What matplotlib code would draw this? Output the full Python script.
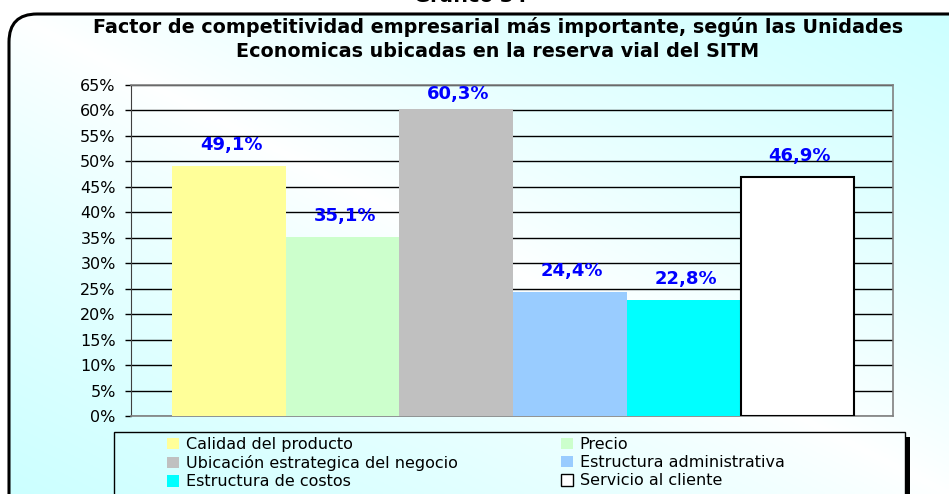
import numpy as np
import matplotlib
matplotlib.use("Agg")
import matplotlib.pyplot as plt
from matplotlib.patches import FancyBboxPatch, Rectangle, Patch

categories = ["Calidad del producto", "Precio", "Ubicación estrategica del negocio",
              "Estructura administrativa", "Estructura de costos", "Servicio al cliente"]
values = [49.1, 35.1, 60.3, 24.4, 22.8, 46.9]
labels = ["49,1%", "35,1%", "60,3%", "24,4%", "22,8%", "46,9%"]
colors = ["#ffff99", "#ccffcc", "#c0c0c0", "#99ccff", "#00ffff", "#ffffff"]
edges = ["none", "none", "none", "none", "none", "black"]
yticks = list(range(0, 70, 5))
title = "Factor de competitividad empresarial más importante, según las Unidades\nEconomicas ubicadas en la reserva vial del SITM"
top_title = "Gráfico 34"

plt.rcParams['font.family'] = ['DejaVu Sans']

W, H = 949, 494
fig = plt.figure(figsize=(W / 100, H / 100), dpi=100)

# background with gradient clipped to rounded frame
bg = fig.add_axes([0, 0, 1, 1], zorder=-10)
bg.set_xlim(0, W)
bg.set_ylim(0, H)
bg.axis('off')
u = np.linspace(0, 1, 300)
v = np.linspace(0, 1, 200)
U, V = np.meshgrid(u, v)
t = np.abs(U + V - 1.0)
t = np.clip(t, 0, 1) ** 0.8
c0 = np.array([1.0, 1.0, 1.0])
c1 = np.array([0.80, 1.0, 1.0])
img = c0[None, None, :] + t[:, :, None] * (c1 - c0)[None, None, :]
frame = FancyBboxPatch((9, -40), W + 40, H - 13 + 40 - 1,
                       boxstyle="round,pad=0,rounding_size=28",
                       facecolor="none", edgecolor="black", linewidth=2.2, zorder=3)
bg.add_patch(frame)
im = bg.imshow(img, extent=(9, W, 0, H - 13), origin='lower', aspect='auto', zorder=1)
im.set_clip_path(frame)

fig.text(470 / W, 1 - 2 / H, top_title, ha='center', va='baseline',
         fontsize=14, fontweight='bold')
fig.text(498 / W, 1 - 39 / H, title, ha='center', va='center',
         fontsize=13.8, fontweight='bold', linespacing=1.3)

ymax = 65
ax = fig.add_axes([131 / W, 1 - 416 / H, (893 - 131) / W, (416 - 85) / H])
ax.set_facecolor('none')
x = np.arange(len(values))
bars = ax.bar(x, values, width=1.0, color=colors, edgecolor=edges, linewidth=1.5, zorder=3)
for xi, val, lab in zip(x, values, labels):
    ly = min(val + 4.1, ymax - 1.8)
    ax.text(xi + 0.02, ly, lab, ha='center', va='center', color='#0000ff',
            fontsize=13, fontweight='bold', zorder=5)
ax.set_ylim(0, ymax)
ax.set_xlim(-0.86, 5.84)
ax.set_yticks(yticks)
ax.set_yticklabels([f"{y}%" for y in yticks], fontsize=11.5)
ax.set_xticks([])
ax.yaxis.grid(True, color='black', linewidth=1.0, zorder=0)
ax.set_axisbelow(True)
for s in ['left']:
    ax.spines[s].set_color('#404040')
for s in ['right', 'bottom', 'top']:
    ax.spines[s].set_color('#808080')
    ax.spines[s].set_linewidth(1.2)
ax.tick_params(axis='y', direction='out', length=4, width=1, pad=7)

# legend frame with shadow
bg.add_patch(Rectangle((905, -5), 5, H - 437 + 5, facecolor='black', edgecolor='none', zorder=4))
bg.add_patch(Rectangle((114, -5), 905 - 114, H - 432 + 5, facecolor='none',
                       edgecolor='black', linewidth=1.0, zorder=5))

handles = [Patch(facecolor=c, edgecolor=('black' if e == 'black' else 'none'), linewidth=1.0)
           for c, e in zip(colors, edges)]
col1 = [0, 2, 4]
col2 = [1, 3, 5]
for idx, xs in ((col1, 167), (col2, 561)):
    leg = fig.legend([handles[i] for i in idx], [categories[i] for i in idx],
                     loc='upper left', bbox_to_anchor=(xs / W, 1 - 437 / H),
                     frameon=False, fontsize=11.5, handlelength=0.75, handleheight=0.75,
                     handletextpad=0.42, labelspacing=0.2, borderpad=0, borderaxespad=0)

fig.savefig("out.png", dpi=100)
